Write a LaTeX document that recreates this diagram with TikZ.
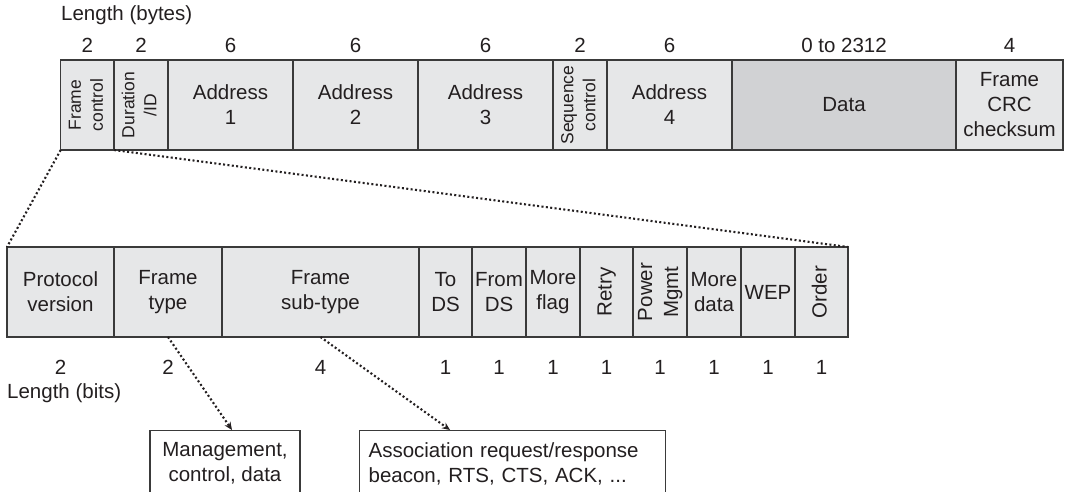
\documentclass[tikz,border=0pt]{standalone}
\usepackage{fontspec}
\setmainfont{Liberation Sans}
\usetikzlibrary{arrows.meta}
\definecolor{ink}{HTML}{231F20}
\definecolor{edge}{HTML}{3A3A3A}
\definecolor{cellfill}{HTML}{E6E7E8}
\definecolor{datafill}{HTML}{D1D2D4}
\tikzset{
  x=1pt, y=1pt,
  every node/.style={text=ink, font=\fontsize{20.5}{25}\selectfont},
  cell/.style={draw=edge, line width=1.2pt, fill=cellfill, inner sep=0pt, outer sep=0pt,
               minimum height=90pt, align=center},
  num/.style={inner sep=0pt},
  dotline/.style={draw=ink, line width=2.1pt, dash pattern=on 2pt off 2.4pt},
  dotarrow/.style={dotline, -{Stealth[length=8pt,width=7pt,line width=0pt,sep=0pt]}},
  infobox/.style={draw=edge, line width=1.2pt, fill=white, minimum height=66pt, inner ysep=0pt}
}
\newcommand{\vsmall}[1]{\rotatebox{90}{\fontsize{17.5}{22}\selectfont\begin{tabular}{@{}c@{}}#1\end{tabular}}}
\newcommand{\vbig}[1]{\rotatebox{90}{\fontsize{20.5}{26}\selectfont\begin{tabular}{@{}c@{}}#1\end{tabular}}}
\begin{document}
\begin{tikzpicture}
\useasboundingbox (0,0) rectangle (1068,-492);
% ---- top row (bytes)
\node[anchor=west, inner sep=0pt] (lbytes) at (61,-15) {Length (bytes)};
\node[cell, minimum width=53.3pt] (fc) at (87.35,-105) {\vsmall{Frame\\control}};
\node[cell, minimum width=54pt] (dur) at (141,-105) {\vsmall{Duration\\/ID}};
\node[cell, minimum width=125pt] (a1) at (230.5,-105) {Address\\1};
\node[cell, minimum width=125pt] (a2) at (355.5,-105) {Address\\2};
\node[cell, minimum width=135pt] (a3) at (485.5,-105) {Address\\3};
\node[cell, minimum width=54pt] (seq) at (580,-105) {\vsmall{Sequence\\control}};
\node[cell, minimum width=125pt] (a4) at (669.5,-105) {Address\\4};
\node[cell, minimum width=224pt, fill=datafill] (data) at (844,-105) {Data};
\node[cell, minimum width=107pt] (crc) at (1009.5,-105) {Frame\\CRC\\checksum};
\node[num] (b1) at (87.35,-45) {2};
\node[num] (b2) at (141,-45) {2};
\node[num] (b3) at (230.5,-45) {6};
\node[num] (b4) at (355.5,-45) {6};
\node[num] (b5) at (485.5,-45) {6};
\node[num] (b6) at (580,-45) {2};
\node[num] (b7) at (669.5,-45) {6};
\node[num] (b8) at (844,-45) {0 to 2312};
\node[num] (b9) at (1009.5,-45) {4};
% ---- bottom row (bits)
\node[cell, minimum width=107pt] (pv) at (60.5,-292) {Protocol\\version};
\node[cell, minimum width=108pt] (ft) at (168,-292) {Frame\\type};
\node[cell, minimum width=197pt] (st) at (320.5,-292) {Frame\\sub-type};
\node[cell, minimum width=53pt] (tods) at (445.5,-292) {To\\DS};
\node[cell, minimum width=54pt] (fromds) at (499,-292) {From\\DS};
\node[cell, minimum width=54pt] (mf) at (553,-292) {More\\flag};
\node[cell, minimum width=53pt] (retry) at (606.5,-292) {\vbig{Retry}};
\node[cell, minimum width=54pt] (pm) at (660,-292) {\vbig{Power\\Mgmt}};
\node[cell, minimum width=54pt] (md) at (714,-292) {More\\data};
\node[cell, minimum width=54pt] (wep) at (768,-292) {WEP};
\node[cell, minimum width=53pt] (ord) at (821.5,-292) {\vbig{Order}};
\node[num] (c1) at (60.5,-367) {2};
\node[num] (c2) at (168,-367) {2};
\node[num] (c3) at (320.5,-367) {4};
\node[num] (c4) at (445.5,-367) {1};
\node[num] (c5) at (499,-367) {1};
\node[num] (c6) at (553,-367) {1};
\node[num] (c7) at (606.5,-367) {1};
\node[num] (c8) at (660,-367) {1};
\node[num] (c9) at (714,-367) {1};
\node[num] (c10) at (768,-367) {1};
\node[num] (c11) at (821.5,-367) {1};
\node[anchor=west, inner sep=0pt] (lbits) at (7,-393) {Length (bits)};
% ---- info boxes
\node[infobox, anchor=north, minimum width=150pt, align=center] (mgmt) at (225,-430) {Management,\\control, data};
\node[infobox, anchor=north west, text width=288pt, inner xsep=9pt, align=left] (assoc) at (359,-430) {Association request/response\\beacon, RTS, CTS, ACK, ...};
% ---- connectors
\coordinate (mgtip) at ([xshift=7pt]mgmt.north);
\coordinate (astip) at ([xshift=91pt]assoc.north west);
\draw[dotline] (fc.south west) -- (pv.north west);
\draw[dotline] (fc.south east) -- (ord.north east);
\draw[dotarrow] (ft.south) -- (mgtip);
\draw[dotarrow] (st.south) -- (astip);
\end{tikzpicture}
\end{document}
